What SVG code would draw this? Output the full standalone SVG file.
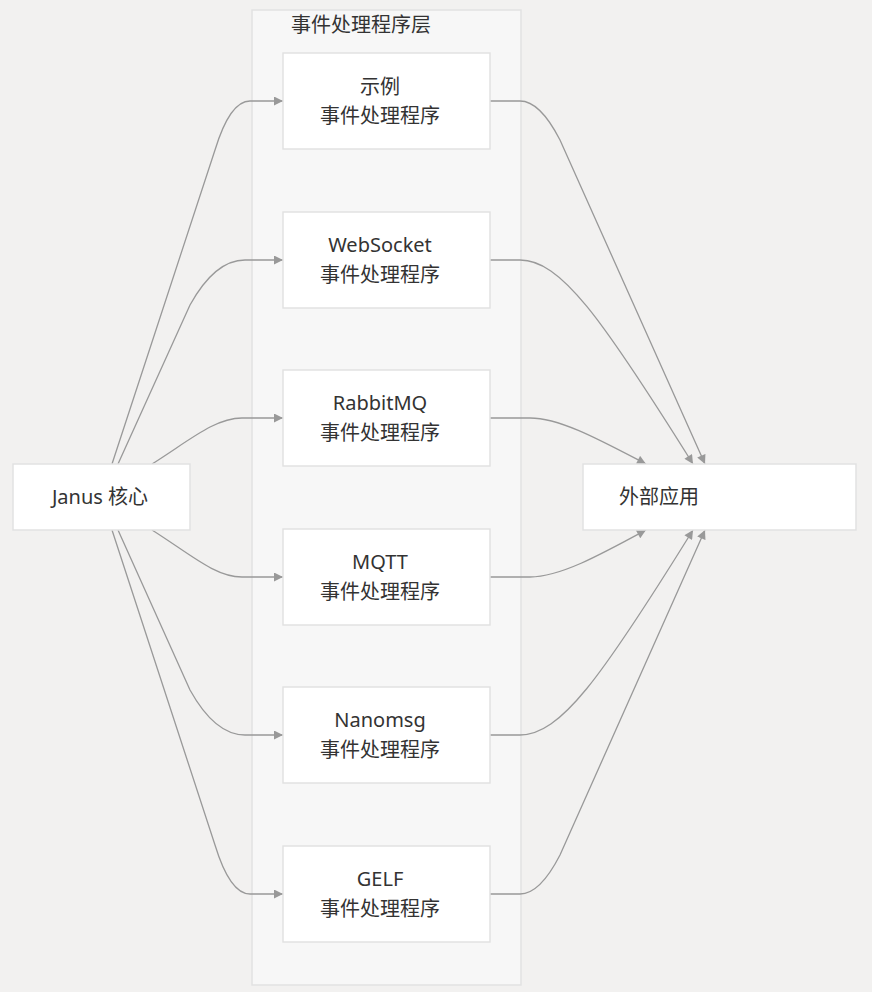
<svg xmlns="http://www.w3.org/2000/svg" width="872" height="992" viewBox="0 0 872 992">
<style>
.bg{fill:#f2f1f0}
.cluster{fill:#f7f7f7;stroke:#e2e2e2;stroke-width:1.5}
.node{fill:#ffffff;stroke:#e2e2e2;stroke-width:1.5}
.t{font-family:"Segoe UI","Noto Sans","Noto Sans CJK SC",sans-serif;font-size:20px;fill:#333333;text-anchor:middle}
.e{fill:none;stroke:#999999;stroke-width:1.3}
</style>
<defs>
<marker id="arr" viewBox="0 0 10 10" refX="10" refY="5" markerUnits="userSpaceOnUse" markerWidth="10" markerHeight="9" orient="auto">
<path d="M0,0 L10,5 L0,10 z" fill="#999999"/>
</marker>
</defs>
<rect class="bg" x="0" y="0" width="872" height="992"/>
<g id="cluster-layer">
<rect class="cluster" x="252" y="10" width="269" height="975"/>
<text class="t" x="361" y="32">事件处理程序层</text>
</g>
<g id="edges">
<path class="e" marker-end="url(#arr)" d="M112,464 L215,150 Q230,101 250,101 L283,101"/>
<path class="e" marker-end="url(#arr)" d="M118,464 L190,305 Q215,260 245,260 L283,260"/>
<path class="e" marker-end="url(#arr)" d="M152,464 C190,440 215,418 242,418 L283,418"/>
<path class="e" marker-end="url(#arr)" d="M152,530 C190,554 215,577 242,577 L283,577"/>
<path class="e" marker-end="url(#arr)" d="M118,530 L190,690 Q215,735 245,735 L283,735"/>
<path class="e" marker-end="url(#arr)" d="M112,530 L215,845 Q230,894 250,894 L283,894"/>
<path class="e" marker-end="url(#arr)" d="M490,101 L520,101 Q540,101 560,140 L705,464"/>
<path class="e" marker-end="url(#arr)" d="M490,260 L520,260 C560,260 600,315 693,464"/>
<path class="e" marker-end="url(#arr)" d="M490,418 L530,418 C560,418 600,440 646,464"/>
<path class="e" marker-end="url(#arr)" d="M490,577 L530,577 C560,577 600,555 646,530"/>
<path class="e" marker-end="url(#arr)" d="M490,735 L520,735 C560,735 600,680 693,530"/>
<path class="e" marker-end="url(#arr)" d="M490,894 L520,894 Q540,894 560,855 L705,530"/>
</g>
<g id="janus">
<rect class="node" x="13" y="464" width="177" height="66"/>
<text class="t" x="100" y="504">Janus 核心</text>
</g>
<g id="external">
<rect class="node" x="583" y="464" width="273" height="66"/>
<text class="t" x="659" y="504">外部应用</text>
</g>
<g id="sample">
<rect class="node" x="283" y="53" width="207" height="96"/>
<text class="t" x="380" y="94">示例</text>
<text class="t" x="380" y="123">事件处理程序</text>
</g>
<g id="websocket">
<rect class="node" x="283" y="212" width="207" height="96"/>
<text class="t" x="380" y="252">WebSocket</text>
<text class="t" x="380" y="282">事件处理程序</text>
</g>
<g id="rabbitmq">
<rect class="node" x="283" y="370" width="207" height="96"/>
<text class="t" x="380" y="410">RabbitMQ</text>
<text class="t" x="380" y="440">事件处理程序</text>
</g>
<g id="mqtt">
<rect class="node" x="283" y="529" width="207" height="96"/>
<text class="t" x="380" y="569">MQTT</text>
<text class="t" x="380" y="599">事件处理程序</text>
</g>
<g id="nanomsg">
<rect class="node" x="283" y="687" width="207" height="96"/>
<text class="t" x="380" y="727">Nanomsg</text>
<text class="t" x="380" y="757">事件处理程序</text>
</g>
<g id="gelf">
<rect class="node" x="283" y="846" width="207" height="96"/>
<text class="t" x="380" y="886">GELF</text>
<text class="t" x="380" y="916">事件处理程序</text>
</g>
</svg>
